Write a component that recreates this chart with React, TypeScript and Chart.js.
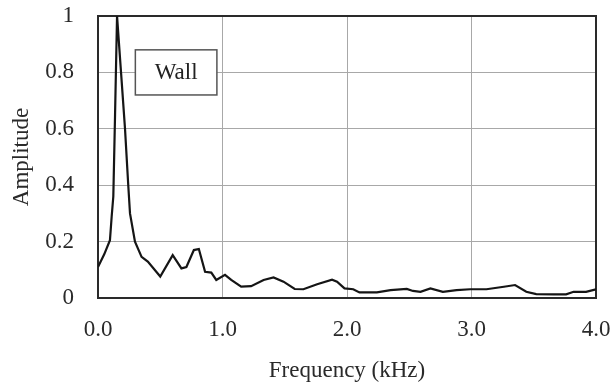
import React, { useEffect, useRef } from "react";
import { Chart, registerables } from "chart.js";

Chart.register(...registerables);

const freqKHz = [0, 0.05, 0.096, 0.11, 0.123, 0.137, 0.153, 0.185, 0.217, 0.243, 0.257, 0.297, 0.35, 0.4, 0.5, 0.6, 0.67, 0.71, 0.77, 0.81, 0.86, 0.91, 0.95, 1.02, 1.07, 1.15, 1.23, 1.33, 1.41, 1.49, 1.58, 1.65, 1.76, 1.88, 1.92, 1.98, 2.05, 2.1, 2.24, 2.35, 2.48, 2.53, 2.59, 2.67, 2.77, 2.88, 2.99, 3.12, 3.26, 3.35, 3.44, 3.52, 3.66, 3.76, 3.82, 3.92, 4.0];
const amplitude = [0.11, 0.155, 0.205, 0.29, 0.36, 0.65, 1.0, 0.8, 0.6, 0.4, 0.3, 0.2, 0.146, 0.129, 0.076, 0.152, 0.105, 0.11, 0.17, 0.174, 0.093, 0.09, 0.064, 0.082, 0.064, 0.04, 0.042, 0.064, 0.073, 0.058, 0.032, 0.031, 0.049, 0.065, 0.058, 0.034, 0.031, 0.02, 0.02, 0.028, 0.032, 0.025, 0.022, 0.034, 0.022, 0.028, 0.031, 0.031, 0.04, 0.046, 0.022, 0.014, 0.013, 0.013, 0.022, 0.022, 0.031];

const xTitle = "Frequency (kHz)";
const yTitle = "Amplitude";
const labelText = "Wall";
const labelBox = { x0: 0.3, x1: 0.955, y0: 0.88, y1: 0.72 };

const FONT = '"Liberation Serif", "Times New Roman", serif';

export default function App() {
  const ref = useRef<HTMLCanvasElement>(null);
  useEffect(() => {
    document.body.style.margin = "0";
    const frame = {
      id: "frame",
      beforeDatasetsDraw(chart: any) {
        const { ctx, chartArea: a, scales } = chart;
        ctx.save();
        ctx.strokeStyle = "#2a2a2a";
        ctx.lineWidth = 2;
        ctx.strokeRect(a.left, a.top, a.right - a.left, a.bottom - a.top);
        const x0 = scales.x.getPixelForValue(labelBox.x0);
        const x1 = scales.x.getPixelForValue(labelBox.x1);
        const y0 = scales.y.getPixelForValue(labelBox.y0);
        const y1 = scales.y.getPixelForValue(labelBox.y1);
        ctx.fillStyle = "#fff";
        ctx.fillRect(x0, y0, x1 - x0, y1 - y0);
        ctx.strokeStyle = "#555";
        ctx.lineWidth = 1.5;
        ctx.strokeRect(x0, y0, x1 - x0, y1 - y0);
        ctx.fillStyle = "#222";
        ctx.font = `23px ${FONT}`;
        ctx.textAlign = "center";
        ctx.textBaseline = "middle";
        ctx.fillText(labelText, (x0 + x1) / 2, (y0 + y1) / 2 + 1);
        ctx.restore();
      },
    };
    const chart = new Chart(ref.current!, {
      type: "line",
      data: {
        datasets: [
          {
            data: freqKHz.map((f, i) => ({ x: f, y: amplitude[i] })),
            borderColor: "#151515",
            borderWidth: 2.2,
            pointRadius: 0,
            tension: 0,
            fill: false,
          },
        ],
      },
      options: {
        responsive: false,
        animation: false,
        devicePixelRatio: 1,
        layout: { padding: { top: 16, right: 18, left: 0, bottom: 0 } },
        plugins: { legend: { display: false }, tooltip: { enabled: false } },
        scales: {
          x: {
            type: "linear",
            min: 0,
            max: 4,
            afterFit: (s: any) => {
              s.height = 85;
              s.paddingLeft = 0;
              s.paddingRight = 0;
            },
            ticks: {
              stepSize: 1,
              callback: (v: any) => Number(v).toFixed(1),
              font: { family: FONT, size: 23 },
              color: "#2a2a2a",
              padding: 18,
              maxRotation: 0,
            },
            grid: { color: "#a8a8a8", lineWidth: 1, drawTicks: false },
            border: { display: false },
            title: {
              display: true,
              text: xTitle,
              font: { family: FONT, size: 23, lineHeight: 1 },
              color: "#2a2a2a",
              padding: { top: 0, bottom: 1 },
            },
          },
          y: {
            min: 0,
            max: 1,
            afterFit: (s: any) => {
              s.width = 98;
              s.paddingTop = 0;
              s.paddingBottom = 0;
            },
            ticks: {
              stepSize: 0.2,
              callback: (v: any) => (v === 0 ? "0" : v === 1 ? "1" : Number(v).toFixed(1)),
              font: { family: FONT, size: 23 },
              color: "#2a2a2a",
              padding: 24,
            },
            grid: { color: "#a8a8a8", lineWidth: 1, drawTicks: false },
            border: { display: false },
            title: {
              display: true,
              text: yTitle,
              font: { family: FONT, size: 23, lineHeight: 1 },
              color: "#2a2a2a",
              padding: { top: 10, bottom: 0 },
            },
          },
        },
      },
      plugins: [frame],
    });
    return () => chart.destroy();
  }, []);
  return (
    <div style={{ position: "fixed", left: 0, top: 0, width: 614, height: 383, background: "#fff" }}>
      <canvas ref={ref} width={614} height={383} />
    </div>
  );
}
